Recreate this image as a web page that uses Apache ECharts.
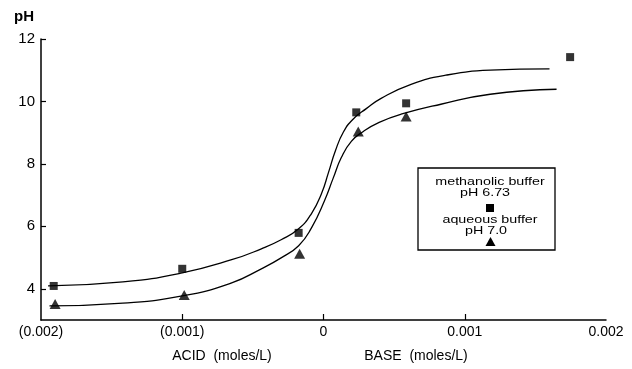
<!DOCTYPE html>
<html>
<head>
<meta charset="utf-8">
<script src="https://cdn.jsdelivr.net/npm/echarts@6/dist/echarts.min.js"></script>
<style>
html,body{margin:0;padding:0;background:#fff;}
#chart{width:632px;height:369px;}
</style>
</head>
<body>
<div id="chart"></div>
<script>
// Axis ticks
const xTickValues = [-0.002, -0.001, 0, 0.001, 0.002];
const xTickMarks = [-0.001, 0, 0.001];
const yTickValues = [4, 6, 8, 10, 12];

// Measured points: methanolic buffer pH 6.73 (squares)
const methX = [-0.00191, -0.001, -0.000176, 0.000232, 0.000585, 0.001746];
const methPH = [4.09, 4.64, 5.79, 9.65, 9.94, 11.42];

// Measured points: aqueous buffer pH 7.0 (triangles)
const aqX = [-0.0019, -0.000986, -0.000169, 0.000246, 0.000585];
const aqPH = [3.51, 3.80, 5.12, 9.04, 9.52];

// Fitted curves
const methCurveX = [-0.00195, -0.00142, -0.001, -0.00065, -0.00044, -0.0003, -0.000176, -0.000085, -0.000014, 0.000035, 0.000085, 0.000141, 0.000211, 0.000303, 0.000408, 0.00062, 0.000866, 0.00118, 0.0016];
const methCurvePH = [4.09, 4.22, 4.51, 4.93, 5.28, 5.57, 5.92, 6.41, 7.05, 7.72, 8.43, 9.02, 9.44, 9.77, 10.10, 10.55, 10.84, 11.0, 11.04];

const aqCurveX = [-0.00194, -0.00142, -0.001, -0.00065, -0.00044, -0.0003, -0.000176, -0.000085, 0.000007, 0.00007, 0.000127, 0.000197, 0.000282, 0.000394, 0.000549, 0.000831, 0.00118, 0.00165];
const aqCurvePH = [3.45, 3.54, 3.77, 4.19, 4.64, 4.99, 5.38, 5.95, 6.82, 7.56, 8.21, 8.72, 9.04, 9.33, 9.59, 9.91, 10.23, 10.39];

const zip = (xs, ys) => xs.map((x, i) => [x, ys[i]]);

function fmtX(v) {
  if (Math.abs(v) < 1e-9) return '0';
  const s = Math.abs(v).toFixed(3);
  return v < 0 ? '(' + s + ')' : s;
}

const FONT = '"Liberation Sans", Arial, sans-serif';
const legendText = (t, x, y) => ({type: 'text', x: x, y: y, scaleX: 1.3, style: {text: t, font: '11px ' + FONT, fill: '#000', textAlign: 'center', textVerticalAlign: 'middle'}});
const chart = echarts.init(document.getElementById('chart'));
chart.setOption({
  animation: false,
  backgroundColor: '#fff',
  grid: {left: 41, right: 26, top: 39, bottom: 49},
  xAxis: {
    type: 'value', min: -0.002, max: 0.002, interval: 0.001,
    splitLine: {show: false},
    axisLine: {onZero: false, lineStyle: {color: '#000', width: 1.5}},
    axisTick: {show: true, inside: true, length: 6, customValues: xTickMarks, lineStyle: {color: '#000', width: 1.2}},
    axisLabel: {customValues: xTickValues, formatter: fmtX, color: '#000', fontFamily: FONT, fontSize: 14, margin: 5, showMinLabel: true, showMaxLabel: true}
  },
  yAxis: {
    type: 'value', min: 3, max: 12,
    splitLine: {show: false},
    axisLine: {onZero: false, lineStyle: {color: '#000', width: 1.5}},
    axisTick: {show: true, inside: true, length: 5, customValues: yTickValues, lineStyle: {color: '#000', width: 1.2}},
    axisLabel: {customValues: yTickValues, color: '#000', fontFamily: FONT, fontSize: 15, margin: 6}
  },
  series: [
    {type: 'line', data: zip(methCurveX, methCurvePH), smooth: 0.5, showSymbol: false, symbol: 'none', lineStyle: {color: '#000', width: 1.3}, silent: true},
    {type: 'line', data: zip(aqCurveX, aqCurvePH), smooth: 0.5, showSymbol: false, symbol: 'none', lineStyle: {color: '#000', width: 1.3}, silent: true},
    {type: 'scatter', data: zip(methX, methPH), symbol: 'rect', symbolSize: 8, itemStyle: {color: '#000'}},
    {type: 'scatter', data: zip(aqX, aqPH), symbol: 'triangle', symbolSize: [11, 10], itemStyle: {color: '#000'}}
  ],
  graphic: [
    {type: 'text', left: 14, top: 9, style: {text: 'pH', font: 'bold 15px ' + FONT, fill: '#000'}},
    {type: 'text', x: 222, y: 356, style: {text: 'ACID  (moles/L)', font: '14px ' + FONT, fill: '#000', textAlign: 'center', textVerticalAlign: 'middle'}},
    {type: 'text', x: 416, y: 356, style: {text: 'BASE  (moles/L)', font: '14px ' + FONT, fill: '#000', textAlign: 'center', textVerticalAlign: 'middle'}},
    {type: 'rect', shape: {x: 418, y: 168, width: 137, height: 82}, style: {fill: '#fff', stroke: '#000', lineWidth: 1.3}},
    legendText('methanolic buffer', 490, 182),
    legendText('pH 6.73', 485, 193),
    {type: 'rect', shape: {x: 486, y: 204, width: 8, height: 8}, style: {fill: '#000'}},
    legendText('aqueous buffer', 490, 220),
    legendText('pH 7.0', 486, 231),
    {type: 'polygon', shape: {points: [[490.5, 237], [485.5, 246], [495.5, 246]]}, style: {fill: '#000'}}
  ]
});
</script>
</body>
</html>
